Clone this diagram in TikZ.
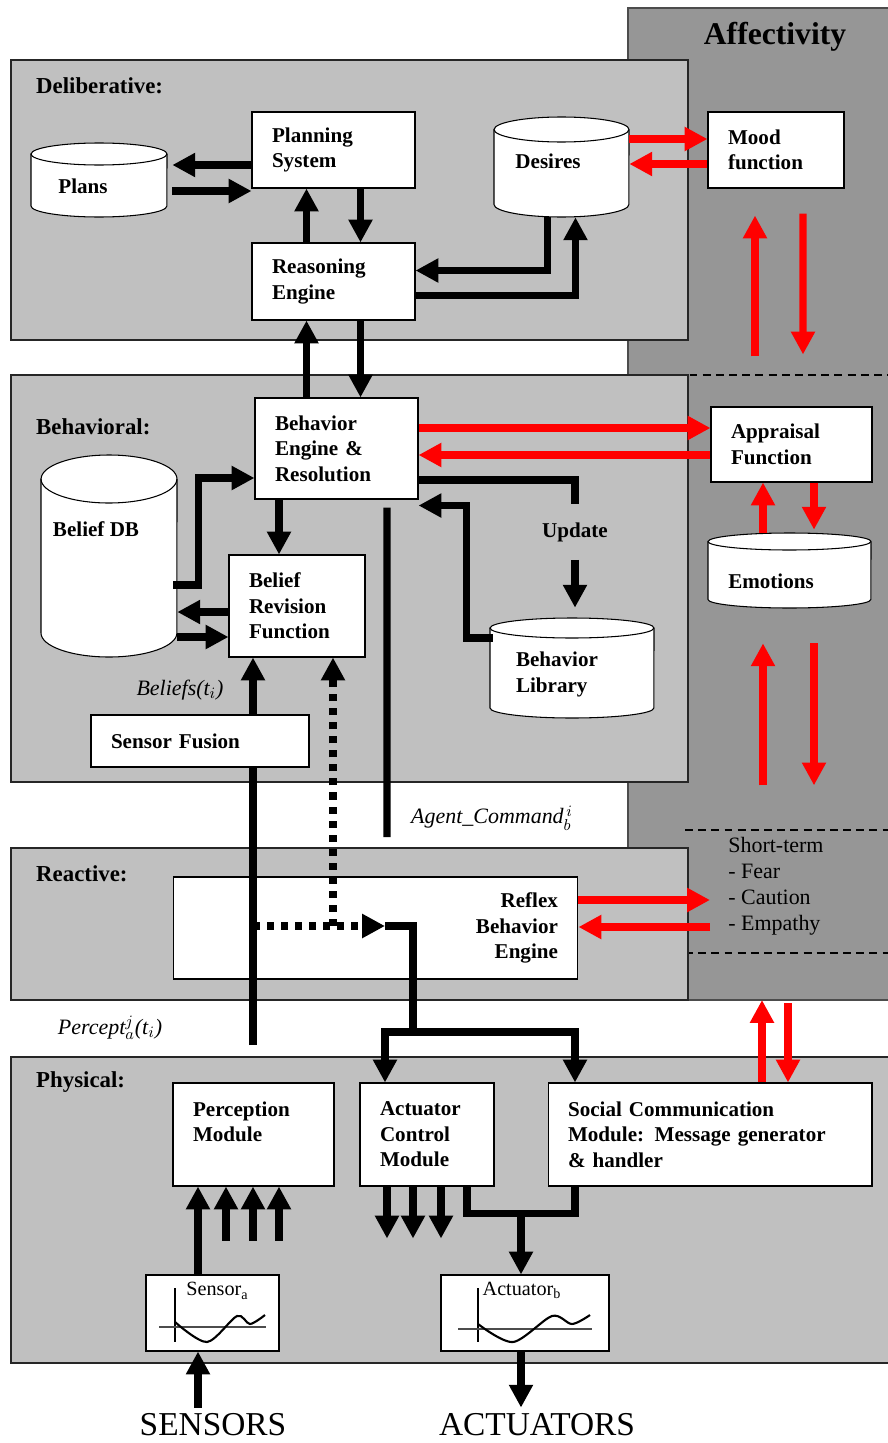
\documentclass[tikz,border=0pt]{standalone}
\usepackage{fontspec}
\setmainfont{Liberation Serif}
\usetikzlibrary{positioning, calc, arrows.meta}

\definecolor{layergray}{RGB}{192,192,192}
\definecolor{affgray}{RGB}{150,150,150}

\newcommand{\boxfont}{\bfseries\fontsize{12}{14.5}\selectfont}
\newcommand{\tagfont}{\itshape\fontsize{12.5}{14}\selectfont}
\newcommand{\sigfont}{\fontsize{11.5}{13}\selectfont}
% database drum: centre x, centre y, width, height, cap radius (px)
\newcommand{\drawdrum}[5]{%
  \draw[dbdrum] ({#1-#3/2},{#2-#4/2+#5}) -- ({#1-#3/2},{#2+#4/2-#5})
    arc[start angle=180, end angle=360, x radius={#3*0.01cm}, y radius={#5*0.02cm}]
    -- ({#1+#3/2},{#2-#4/2+#5})
    arc[start angle=0, end angle=180, x radius={#3*0.01cm}, y radius={#5*0.02cm}] -- cycle;
  \draw[dbdrum, fill=none] ({#1-#3/2},{#2-#4/2+#5})
    arc[start angle=180, end angle=360, x radius={#3*0.01cm}, y radius={#5*0.02cm}];}

\begin{document}
\begin{tikzpicture}[x=0.02cm, y=-0.02cm,
    layer/.style={draw=black!85, line width=0.6pt, fill=layergray},
    box/.style={draw, fill=white, line width=0.6pt, inner xsep=0.4cm, inner ysep=0pt, align=left, font=\boxfont},
    dbase/.style={inner sep=0pt},
    dblabel/.style={font=\boxfont, align=left, anchor=center},
    dbdrum/.style={draw, fill=white, line width=0.6pt},
    flow/.style={line width=4pt, -{Triangle[length=13pt, width=13pt]}},
    flowline/.style={line width=4pt},
    dotflow/.style={flow, dash pattern=on 4pt off 4pt},
    redflow/.style={flow, red},
    tag/.style={font=\tagfont},
    laytitle/.style={anchor=west, font=\bfseries\fontsize{13}{15}\selectfont},
    plotbox/.style={draw, fill=white, line width=0.6pt, minimum width=#1, minimum height=1.52cm, inner sep=0pt},
    sep/.style={line width=1pt, dash pattern=on 4.5pt off 3pt}]
  \useasboundingbox (0,0) rectangle (888,1443);

  % affectivity column and the four layers
  \draw[draw=black!70, line width=0.6pt, fill=affgray] (628,8) rectangle (900,1000);
  \node[font=\bfseries\fontsize{18}{20}\selectfont] (afftitle) at (775,37) {Affectivity};
  \draw[sep] (650,375) -- (900,375);
  \draw[sep] (685,830) -- (900,830);
  \draw[sep] (685,953) -- (900,953);

  \draw[layer] (11,60) rectangle (688,340);
  \node[laytitle] (deltitle) at (30,86) {Deliberative:};
  \draw[layer] (11,375) rectangle (688,782);
  \node[laytitle] (behtitle) at (30,427) {Behavioral:};
  \draw[layer] (11,848) rectangle (688,1000);
  \node[laytitle] (reatitle) at (30,874) {Reactive:};
  \draw[layer] (11,1057) rectangle (900,1363);
  \node[laytitle] (phytitle) at (30,1082) {Physical:};

  % deliberative
  \drawdrum{99}{180}{136}{74}{11}
  \node[dbase, minimum width=2.72cm, minimum height=1.48cm,
        label={[dblabel, xshift=-0.32cm, yshift=-0.88cm]north:Plans}] (plans) at (99,180) {};
  \node[box, text width=2.46cm, minimum height=1.52cm] (plan) at (333.5,150) {Planning\\System};
  \drawdrum{561.5}{167}{135}{100}{12.5}
  \node[dbase, minimum width=2.7cm, minimum height=2cm,
        label={[dblabel, xshift=-0.27cm, yshift=-0.9cm]north:Desires}] (des) at (561.5,167) {};
  \node[box, text width=1.92cm, minimum height=1.52cm] (mood) at (776,150) {Mood\\function};
  \node[box, text width=2.46cm, minimum height=1.54cm] (rsn) at (333.5,281.5) {Reasoning\\Engine};

  \draw[flow] ($(plan.west)+(0,15)$) -- ($(plans.east)+(5,-15)$);
  \draw[flow] ($(plans.east)+(5,11)$) -- ($(plan.west)+(0,41)$);
  \draw[flow] ($(rsn.north)+(-27,0)$) -- ($(plan.south)+(-27,0)$);
  \draw[flow] ($(plan.south)+(27,0)$) -- ($(rsn.north)+(27,0)$);
  \draw[flow] ($(des.south)+(-14,0)$) |- ($(rsn.east)+(0,-11)$);
  \draw[flow] ($(rsn.east)+(0,14)$) -| ($(des.south)+(14,0)$);
  \draw[redflow] ($(des.east)+(0,-28)$) -- ($(mood.west)+(0,-11)$);
  \draw[redflow] ($(mood.west)+(0,14)$) -- ($(des.east)+(0,-3)$);

  % behavioral
  \node[box, text width=2.46cm, minimum height=2.02cm] (beh) at (336.5,448.5) {Behavior\\Engine \&\\Resolution};
  \drawdrum{109}{556}{136}{202}{24}
  \node[dbase, minimum width=2.72cm, minimum height=4.04cm,
        label={[dblabel, xshift=-0.26cm, yshift=-1.5cm]north:Belief DB}] (bdb) at (109,556) {};
  \node[box, text width=1.92cm, minimum height=2.04cm] (brf) at (297,606) {Belief\\Revision\\Function};
  \drawdrum{572}{668}{164}{100}{10}
  \node[dbase, minimum width=3.28cm, minimum height=2cm,
        label={[dblabel, xshift=-0.3cm, yshift=-1.14cm]north:Behavior\\Library}] (lib) at (572,668) {};
  \node[box, text width=2.42cm, minimum height=1.5cm] (apr) at (791.5,444.5) {Appraisal\\Function};
  \drawdrum{789.5}{570.5}{163}{75}{8.5}
  \node[dbase, minimum width=3.26cm, minimum height=1.5cm,
        label={[dblabel, xshift=-0.37cm, yshift=-0.98cm]north:Emotions}] (emo) at (789.5,570.5) {};
  \node[font=\boxfont, minimum height=1.1cm, inner sep=0pt] (upd) at (575,532) {Update};

  \draw[flow] ($(beh.north)+(-30,0)$) -- ($(rsn.south)+(-27,0)$);
  \draw[flow] ($(rsn.south)+(27,0)$) -- ($(beh.north)+(24,0)$);
  \draw[flow] ($(bdb.east)+(-4,29)$) -- ++(25,0) |- ($(beh.west)+(0,29.5)$);
  \draw[flow] ($(beh.south)+(-57.5,0)$) -- ($(brf.north)+(-18,0)$);
  \draw[flow] ($(brf.west)+(0,6)$) -- ($(bdb.east)+(0,56)$);
  \draw[flow] ($(bdb.east)+(0,81)$) -- ($(brf.west)+(0,31)$);
  \draw[flowline] ($(beh.east)+(0,31.5)$) -| (upd.north);
  \draw[flow] (upd.south) -- ($(lib.north)+(3,-10)$);
  \draw[flow] ($(lib.west)+(3,-30)$) -- ++(-26,0) |- ($(beh.south east)+(0,6)$);
  \coordinate (cmdend) at (387,837);
  \draw[flowline] ($(beh.south)+(50.5,8)$) -- (cmdend);
  \node[tag, anchor=west] (cmd) at (405,818) {Agent\_Command$_b^{\,i}$};
  \node[tag] (blf) at (180,690) {Beliefs(t$_i$)};

  \draw[redflow] ($(beh.east)+(0,-20.5)$) -- ($(apr.west)+(0,-16.5)$);
  \draw[redflow] ($(apr.west)+(0,10.5)$) -- ($(beh.east)+(0,6.5)$);
  \draw[redflow] ($(apr.north)+(-36.5,-50)$) -- ($(mood.south)+(-21,27)$);
  \draw[redflow] ($(mood.south)+(27,25)$) -- ($(apr.north)+(11.5,-52)$);
  \draw[redflow] ($(emo.north)+(-26.5,0)$) -- ($(apr.south)+(-28.5,0)$);
  \draw[redflow] ($(apr.south)+(22.5,0)$) -- ($(emo.north)+(24.5,-3)$);
  \draw[redflow] ($(emo.south)+(-26.5,177)$) -- ($(emo.south)+(-26.5,35)$);
  \draw[redflow] ($(emo.south)+(24.5,35)$) -- ($(emo.south)+(24.5,177)$);

  % reactive
  \node[box, text width=7.3cm, minimum height=2.04cm, align=right] (rfx) at (375.5,928) {Reflex\\Behavior\\Engine};
  \node[anchor=west, align=left, inner sep=0pt, font=\fontsize{12.5}{14.8}\selectfont] (stm) at (728,886)
    {Short-term\\- Fear\\- Caution\\- Empathy};
  \draw[redflow] ($(rfx.east)+(0,-28)$) -- ($(stm.west)+(-18,14)$);
  \draw[redflow] ($(stm.west)+(-18,41)$) -- ($(rfx.east)+(0,-1)$);

  \coordinate (pbot) at (253,1045);
  \coordinate (junc) at (253,926);
  \coordinate (dotj) at (333,926);
  \coordinate (rjoin) at (385,926);
  \coordinate (split) at (413,1032);
  \draw[flow] (pbot) -- ($(brf.south)+(-44,0)$);
  \draw[dotflow] (dotj) -- ($(brf.south)+(36,0)$);
  \draw[dotflow] (junc) -- (rjoin);
  \draw[flowline] (rjoin) -| (split);
  \node[box, text width=3.56cm, minimum height=1.04cm] (fus) at (200,741) {Sensor Fusion};
  \node[tag] (pcpt) at (110,1028) {Percept$_a^j$(t$_i$)};

  % physical
  \node[box, text width=2.42cm, minimum height=2.06cm] (per) at (253.5,1134.5) {Perception\\Module\\\mbox{}};
  \node[box, text width=1.88cm, minimum height=2.06cm] (act) at (427,1134.5) {Actuator\\Control\\Module};
  \node[box, text width=5.68cm, minimum height=2.06cm] (soc) at (710,1134.5)
    {Social Communication\\Module: Message generator\\\& handler};
  \node[plotbox=2.66cm, label={[font=\sigfont, anchor=north, yshift=-1pt, xshift=0.1cm]north:Sensor\textsubscript{a}}] (sen) at (212.5,1313) {};
  \node[plotbox=3.36cm, label={[font=\sigfont, anchor=north, yshift=-1pt, xshift=-0.06cm]north:Actuator\textsubscript{b}}] (actb) at (525,1313) {};
  \draw[line width=0.8pt] (175,1288) -- (175,1342);
  \draw[line width=0.8pt, black!70] (159,1327) -- (266,1327);
  \draw[line width=1.2pt] plot[smooth] coordinates {(175,1322) (207,1342) (237,1316) (250,1324) (265,1315)};
  \draw[line width=0.8pt] (478,1288) -- (478,1342);
  \draw[line width=0.8pt, black!70] (458,1329) -- (592,1329);
  \draw[line width=1.2pt] plot[smooth] coordinates {(478,1324) (513,1342) (552,1316) (572,1324) (590,1315)};
  \node[font=\fontsize{19}{21}\selectfont] (snsr) at (213,1425) {SENSORS};
  \node[font=\fontsize{19}{21}\selectfont] (actr) at (537,1425) {ACTUATORS};

  \draw[flow] (split) -| ($(act.north)+(-42,0)$);
  \draw[flow] (split) -| ($(soc.north)+(-135,0)$);
  \draw[flow] ($(sen.north)+(-14.5,0)$) -- ($(per.south)+(-55.5,0)$);
  \foreach \dx in {-27.5,-0.5,25.5}
    \draw[flow] ($(per.south)+(\dx,54)$) -- ($(per.south)+(\dx,0)$);
  \foreach \dx in {-40,-14,14}
    \draw[flow] ($(act.south)+(\dx,0)$) -- ($(act.south)+(\dx,52)$);
  \draw[flowline] ($(act.south)+(40,0)$) |- ($(soc.south)+(-135,27)$) -- ($(soc.south)+(-135,0)$);
  \draw[flow] ($(actb.north)+(-4,-62)$) -- ($(actb.north)+(-4,0)$);
  \draw[flow] ($(snsr.north)+(-15,0)$) -- ($(sen.south)+(-14.5,0)$);
  \draw[flow] ($(actb.south)+(-4,0)$) -- ($(actr.north)+(-16,0)$);
  \draw[redflow] ($(soc.north)+(52,0)$) -- (762,1000);
  \draw[redflow] (788,1003) -- ($(soc.north)+(78,0)$);
\end{tikzpicture}
\end{document}
